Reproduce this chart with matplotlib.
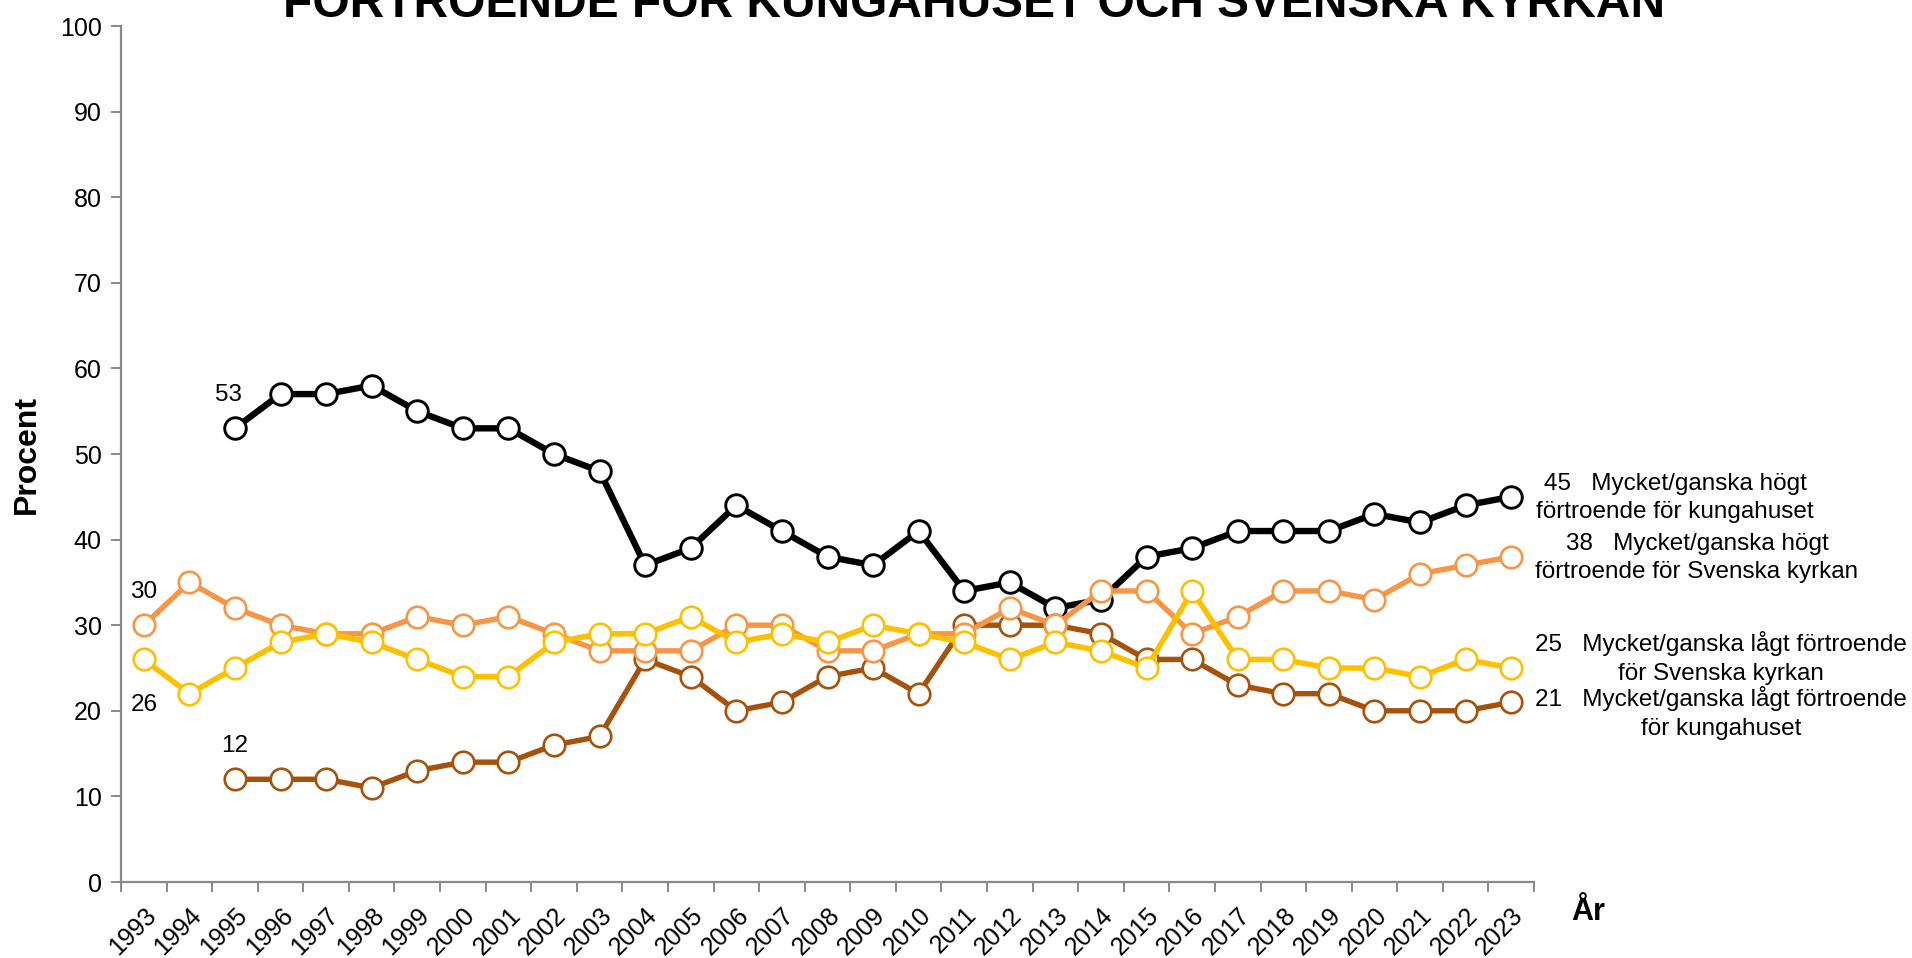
import matplotlib
matplotlib.use("Agg")
import matplotlib.pyplot as plt
import matplotlib.transforms as mtransforms
import numpy as np

years = list(range(1993, 2024))
years_k = list(range(1995, 2024))

kung_hogt = [53, 57, 57, 58, 55, 53, 53, 50, 48, 37, 39, 44, 41, 38, 37, 41,
             34, 35, 32, 33, 38, 39, 41, 41, 41, 43, 42, 44, 45]
kyrka_hogt = [30, 35, 32, 30, 29, 29, 31, 30, 31, 29, 27, 27, 27, 30, 30, 27,
              27, 29, 29, 32, 30, 34, 34, 29, 31, 34, 34, 33, 36, 37, 38]
kyrka_lagt = [26, 22, 25, 28, 29, 28, 26, 24, 24, 28, 29, 29, 31, 28, 29, 28,
              30, 29, 28, 26, 28, 27, 25, 34, 26, 26, 25, 25, 24, 26, 25]
kung_lagt = [12, 12, 12, 11, 13, 14, 14, 16, 17, 26, 24, 20, 21, 24, 25, 22,
             30, 30, 30, 29, 26, 26, 23, 22, 22, 20, 20, 20, 21]

labels_right = [
    "45   Mycket/ganska högt\nförtroende för kungahuset",
    "38   Mycket/ganska högt\nförtroende för Svenska kyrkan",
    "25   Mycket/ganska lågt förtroende\nför Svenska kyrkan",
    "21   Mycket/ganska lågt förtroende\nför kungahuset",
]

title = "FÖRTROENDE FÖR KUNGAHUSET OCH SVENSKA KYRKAN"

c_black = "#000000"
c_orange = "#F79646"
c_yellow = "#FFC000"
c_brown = "#A6520A"

plt.rcParams['font.family'] = ['Liberation Sans', 'DejaVu Sans']

W, H = 1912, 958
fig = plt.figure(figsize=(W / 100, H / 100), dpi=100)
ax = fig.add_axes([121 / W, 1 - 882 / H, (1534 - 121) / W, (882 - 26) / H])

def plot_series(x, y, color, lw, zo, mew=1.9):
    ax.plot(x, y, color=color, lw=lw, marker='o', markersize=15.5,
            markerfacecolor='white', markeredgecolor=color, markeredgewidth=mew,
            zorder=zo, solid_joinstyle='round', clip_on=False)

plot_series(years_k, kung_hogt, c_black, 4.6, 2, mew=2.1)
plot_series(years_k, kung_lagt, c_brown, 3.9, 3)
plot_series(years, kyrka_hogt, c_orange, 3.9, 4)
plot_series(years, kyrka_lagt, c_yellow, 4.0, 5)

ax.set_xlim(1992.5, 2023.5)
ax.set_ylim(0, 100)
ax.set_yticks(np.arange(0, 101, 10))
ax.set_xticks(years)
ax.set_xticks(np.arange(1992.5, 2024, 1), minor=True)
ax.set_xticklabels([str(y) for y in years], rotation=45, ha='right',
                   va='top', rotation_mode='anchor', fontsize=18)
shift = mtransforms.ScaledTranslation(-6 / 100, 0, fig.dpi_scale_trans)
for lab in ax.get_xticklabels():
    lab.set_transform(lab.get_transform() + shift)
ax.tick_params(axis='x', which='major', length=0, pad=15)
ax.tick_params(axis='x', which='minor', length=7, width=1.4, color='#898989',
               direction='out')
ax.tick_params(axis='y', length=7, width=1.4, color='#898989', labelsize=18,
               pad=7)
for s in ['top', 'right']:
    ax.spines[s].set_visible(False)
for s in ['left', 'bottom']:
    ax.spines[s].set_color('#898989')
    ax.spines[s].set_linewidth(1.6)

ax.set_ylabel("Procent", fontsize=23, fontweight='bold')
ax.yaxis.set_label_coords((42 - 121) / (1534 - 121), 0.5)

# start value labels
ann_kw = dict(textcoords='offset points', ha='center', va='center', fontsize=17.5)
ax.annotate(str(kung_hogt[0]), (years_k[0], kung_hogt[0]), xytext=(-5, 24), **ann_kw)
ax.annotate(str(kyrka_hogt[0]), (years[0], kyrka_hogt[0]), xytext=(0, 24), **ann_kw)
ax.annotate(str(kyrka_lagt[0]), (years[0], kyrka_lagt[0]), xytext=(0, -33), **ann_kw)
ax.annotate(str(kung_lagt[0]), (years_k[0], kung_lagt[0]), xytext=(0, 24), **ann_kw)

# right labels
pos = [(1675, 498), (1697, 558), (1721, 658), (1721, 713)]
for (px, py), t in zip(pos, labels_right):
    fig.text(px / W, 1 - py / H, t, ha='center', va='center',
             multialignment='center', fontsize=17.5, linespacing=1.38)

fig.text(1588 / W, 1 - 912 / H, "År", ha='center', va='center',
         fontsize=22, fontweight='bold')

fig.text(974 / W, 1 - 17 / H, title, ha='center', va='baseline',
         fontsize=34.5, fontweight='bold')

fig.savefig("out.png", dpi=100)
